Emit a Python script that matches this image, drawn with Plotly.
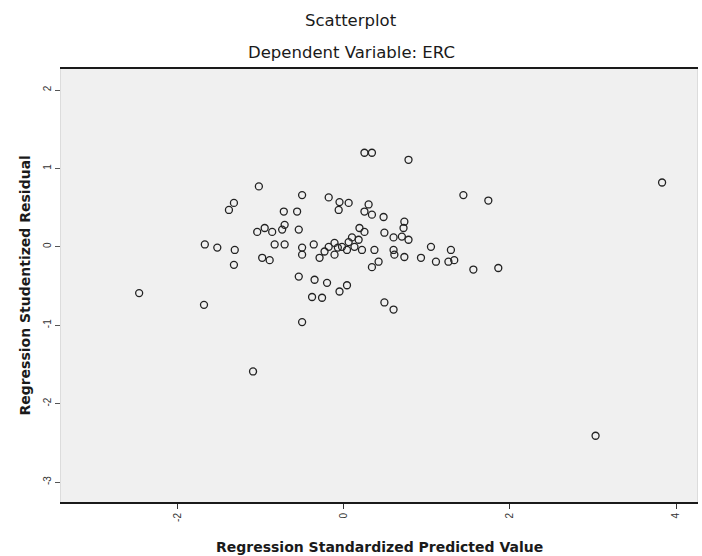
import plotly.graph_objects as go

# Regression Standardized Predicted Value (x) and Studentized Residual (y)
pred_value = [
    -2.46, -1.68, -1.09, -0.50, -1.67, -1.52, -1.31, -1.32, -0.98, -0.89,
    -1.38, -1.32, -1.02, -0.50, -0.72, -0.56, -1.04, -0.95, -0.86, -0.74,
    -0.71, -0.54, -0.83, -0.71, -0.50, -0.50, -0.36, -0.29, -0.18, -0.05,
    -0.06, 0.06, 0.25, 0.34, 0.48, 0.19, 0.25, 0.49, -0.18, -0.11,
    -0.02, 0.06, 0.13, 0.18, 0.22, -0.11, 0.37, 0.34, 0.42, 0.60,
    0.61, -0.54, -0.35, -0.20, -0.38, -0.26, -0.05, 0.04, 0.49, 0.60,
    0.25, 0.34, 0.78, 0.30, 0.73, 0.72, 0.60, 0.70, 0.78, 0.73,
    0.93, 1.05, 1.11, 1.26, 1.29, 1.33, 1.56, 1.86, 1.44, 1.74,
    3.83, 3.03, 0.04, -0.07, 0.10, -0.23,
]
stud_residual = [
    -0.59, -0.74, -1.59, -0.96, 0.03, -0.01, -0.04, -0.23, -0.14, -0.17,
    0.47, 0.56, 0.77, 0.66, 0.45, 0.45, 0.19, 0.24, 0.19, 0.22,
    0.28, 0.22, 0.03, 0.03, -0.01, -0.10, 0.03, -0.14, 0.63, 0.57,
    0.47, 0.56, 0.45, 0.41, 0.38, 0.24, 0.19, 0.18, 0.00, 0.05,
    0.00, 0.06, 0.00, 0.09, -0.04, -0.10, -0.04, -0.26, -0.19, -0.04,
    -0.10, -0.38, -0.42, -0.46, -0.64, -0.65, -0.57, -0.49, -0.71, -0.80,
    1.20, 1.20, 1.11, 0.54, 0.32, 0.24, 0.12, 0.13, 0.09, -0.13,
    -0.14, 0.00, -0.19, -0.19, -0.04, -0.17, -0.29, -0.27, 0.66, 0.59,
    0.82, -2.41, -0.04, -0.01, 0.12, -0.06,
]

x_ticks = [-2, 0, 2, 4]
y_ticks = [2, 1, 0, -1, -2, -3]

TITLE_FONT = "DejaVu Sans, sans-serif"

fig = go.Figure()
fig.add_trace(go.Scatter(
    x=pred_value, y=stud_residual, mode="markers",
    marker=dict(symbol="circle-open", size=7, color="#222222",
                line=dict(width=1.3, color="#222222")),
    showlegend=False, hoverinfo="x+y",
))

fig.update_layout(
    width=702, height=556,
    margin=dict(l=61, r=5, t=69, b=54),
    paper_bgcolor="white",
    plot_bgcolor="#f0f0f0",
    font=dict(family="Liberation Sans, Arial, sans-serif", color="#222222"),
    annotations=[
        dict(text="Scatterplot", xref="paper", yref="paper", x=0.456, y=1.113,
             showarrow=False, xanchor="center", yanchor="middle",
             font=dict(size=16.5, family=TITLE_FONT, color="#1a1a1a")),
        dict(text="Dependent Variable: ERC", xref="paper", yref="paper", x=0.456, y=1.037,
             showarrow=False, xanchor="center", yanchor="middle",
             font=dict(size=16.5, family=TITLE_FONT, color="#1a1a1a")),
        dict(text="<b>Regression Studentized Residual</b>", xref="paper", yref="paper",
             x=-0.058, y=0.5, textangle=-90, showarrow=False,
             xanchor="center", yanchor="middle",
             font=dict(size=14, family=TITLE_FONT, color="#1a1a1a")),
        dict(text="<b>Regression Standardized Predicted Value</b>", xref="paper", yref="paper",
             x=0.5, y=-0.104, showarrow=False,
             xanchor="center", yanchor="middle",
             font=dict(size=14, family=TITLE_FONT, color="#1a1a1a")),
    ],
)

fig.update_xaxes(
    range=[-3.40, 4.25], tickvals=x_ticks, ticktext=[str(v) for v in x_ticks],
    tickangle=-90, ticks="outside", ticklen=5, tickcolor="#333333",
    showgrid=False, zeroline=False,
    showline=True, linecolor="#1a1a1a", linewidth=2, mirror=True,
    tickfont=dict(size=10, color="#333333"),
)
fig.update_yaxes(
    range=[-3.255, 2.268], tickvals=y_ticks, ticktext=[str(v) for v in y_ticks],
    tickangle=-90, ticks="outside", ticklen=5, tickcolor="#555555",
    showgrid=False, zeroline=False,
    showline=True, linecolor="#dcdcdc", linewidth=1, mirror=True,
    tickfont=dict(size=10, color="#333333"),
)

fig.write_html(
    "out.html",
    config={"displayModeBar": False},
    post_script="document.body.style.margin='0px';document.body.style.overflow='hidden';",
)
